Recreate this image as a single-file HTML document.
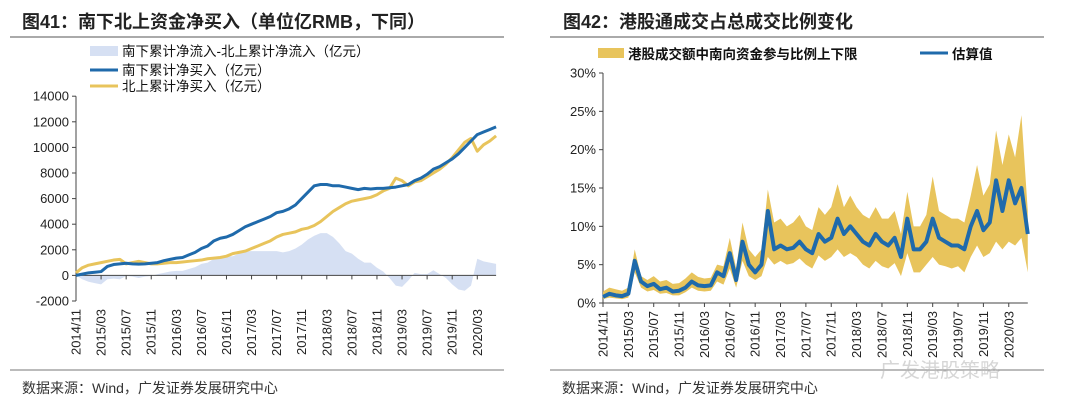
<!DOCTYPE html>
<html><head><meta charset="utf-8">
<style>
html,body{margin:0;padding:0;background:#fff;width:1080px;height:413px;overflow:hidden}
svg{display:block;font-family:"Liberation Sans","Noto Sans CJK SC",sans-serif}
</style></head>
<body>
<svg id="s" width="1080" height="413" viewBox="0 0 1080 413" xmlns="http://www.w3.org/2000/svg">
<g>
<text x="22" y="28" font-size="18" font-weight="bold" fill="#222">图41：南下北上资金净买入（单位亿RMB，下同）</text>
<line x1="10" y1="37" x2="504" y2="37" stroke="#555" stroke-width="1"/>
<rect x="90" y="46" width="28" height="10" fill="#d6e0f3"/>
<text x="122" y="56" font-size="13.5" fill="#111">南下累计净流入-北上累计净流入（亿元）</text>
<line x1="90" y1="70" x2="118" y2="70" stroke="#1f6aab" stroke-width="3"/>
<text x="122" y="75" font-size="13.5" fill="#111">南下累计净买入（亿元）</text>
<line x1="90" y1="86" x2="118" y2="86" stroke="#e8c45c" stroke-width="3"/>
<text x="122" y="91" font-size="13.5" fill="#111">北上累计净买入（亿元）</text>
<g id="L"></g>
<line x1="10" y1="370" x2="504" y2="370" stroke="#777"/>
<text x="22" y="393" font-size="14" fill="#333">数据来源：Wind，广发证券发展研究中心</text>
</g>
<g>
<text x="563" y="28" font-size="18" font-weight="bold" fill="#222">图42：港股通成交占总成交比例变化</text>
<line x1="550" y1="37" x2="1044" y2="37" stroke="#555"/>
<rect x="598" y="48" width="26" height="10" fill="#e8c45c"/>
<text x="628" y="59" font-size="13.5" font-weight="bold" fill="#111">港股成交额中南向资金参与比例上下限</text>
<line x1="920" y1="53" x2="948" y2="53" stroke="#1f6aab" stroke-width="3"/>
<text x="952" y="59" font-size="13.5" font-weight="bold" fill="#111">估算值</text>
<g id="R"></g>
<line x1="550" y1="370" x2="1044" y2="370" stroke="#777"/>
<text x="562" y="393" font-size="14" fill="#333">数据来源：Wind，广发证券发展研究中心</text>
<text x="880" y="377" font-size="20" fill="#bbb" opacity="0.6">广发港股策略</text>
</g>
</svg>
<script>
const xLabels=["2014/11","2015/03","2015/07","2015/11","2016/03","2016/07","2016/11","2017/03","2017/07","2017/11","2018/03","2018/07","2018/11","2019/03","2019/07","2019/11","2020/03"];
const leftTicks=[-2000,0,2000,4000,6000,8000,10000,12000,14000];
const rightTicks=[0,5,10,15,20,25,30];
const southBuy=[0,100,200,250,300,700,850,900,950,900,880,900,950,1000,1150,1250,1350,1400,1600,1800,2100,2300,2700,2900,3000,3200,3500,3800,4000,4200,4400,4600,4900,5000,5200,5500,6000,6500,7000,7100,7100,7000,7000,6900,6800,6700,6800,6750,6800,6800,6850,6900,7000,7100,7400,7600,7900,8300,8500,8800,9100,9500,10000,10500,11000,11200,11400,11600];
const northBuy=[200,600,800,900,1000,1100,1200,1250,900,1000,1100,1000,900,900,950,1000,1000,1050,1100,1150,1200,1300,1350,1400,1500,1700,1800,1900,2100,2300,2500,2700,3000,3200,3300,3400,3600,3700,3900,4200,4600,5000,5300,5600,5800,5900,6000,6100,6300,6600,6800,7600,7400,7000,7300,7400,7700,8000,8300,8700,9200,9800,10400,10700,9700,10200,10500,10900];
const diffFlow=[0,-300,-500,-600,-700,-300,-250,-300,-50,-100,-200,-100,-50,100,200,300,350,350,500,650,900,1000,1300,1500,1500,1500,1700,1900,1900,1900,1900,1900,1900,1800,1900,2100,2400,2800,3100,3300,3300,3000,2500,1900,1700,1300,1000,1000,600,300,-200,-800,-900,-400,200,100,100,400,100,-200,-700,-1100,-1200,-800,1300,1100,1000,900];
const estRatio=[0.8,1.2,1.0,0.9,1.2,5.5,2.8,2.2,2.5,1.8,2.0,1.5,1.6,2.0,2.8,2.3,2.2,2.3,4.0,3.5,6.5,3.0,8.0,5.0,4.0,5.0,12.0,7.0,7.5,7.0,7.2,8.0,7.0,6.5,9.0,8.0,8.5,11.0,9.0,10.0,9.0,8.0,7.5,9.0,8.0,7.5,8.5,6.0,11.0,7.0,7.0,8.0,11.0,8.5,8.0,7.5,7.5,7.0,10.0,12.0,9.5,10.5,16.0,12.0,16.0,13.0,15.0,9.0];
const upperRatio=[1.5,2.0,1.8,1.6,2.0,7.0,3.5,3.0,3.5,2.8,3.0,2.5,2.6,3.2,4.0,3.4,3.2,3.3,5.0,4.8,8.5,4.5,10.5,7.0,6.0,7.0,14.8,10.5,11.0,10.0,10.5,11.5,10.0,9.5,12.5,11.5,12.5,15.5,12.5,14.0,12.5,11.5,11.0,12.5,11.0,11.0,12.0,9.0,14.5,10.0,10.0,11.5,16.5,12.0,11.5,11.0,11.0,10.5,14.0,18.0,14.0,15.5,22.5,18.0,22.0,19.0,24.5,12.0];
const lowerRatio=[0.5,0.7,0.6,0.5,0.7,4.0,2.0,1.5,1.7,1.2,1.3,1.0,1.0,1.4,2.0,1.6,1.5,1.6,2.8,2.4,4.5,2.0,5.5,3.5,3.0,3.5,6.0,5.0,5.5,5.0,5.2,5.8,5.0,4.5,6.2,5.5,6.0,7.0,6.0,6.5,6.0,5.0,4.5,5.5,4.8,4.5,5.2,3.5,6.5,4.0,4.0,5.0,6.0,5.0,4.8,4.5,4.8,4.0,6.0,7.5,6.0,6.5,8.0,7.0,8.0,7.5,8.5,4.0];

const NS="http://www.w3.org/2000/svg";
function mk(p,t,a){const e=document.createElementNS(NS,t);for(const k in a)e.setAttribute(k,a[k]);p.appendChild(e);return e;}

function drawChart(g,o){
  const xs=i=>o.x0+i*o.dx;
  const ys=v=>o.yZero-(v-o.vmin)*o.ky;
  const ax=mk(g,'line',{x1:o.x0,y1:ys(o.ticks[o.ticks.length-1]),x2:o.x0,y2:ys(o.ticks[0]),stroke:'#444','stroke-width':1});
  
  
  o.ticks.forEach(t=>{
    const tk=mk(g,'line',{x1:o.x0-4,y1:ys(t),x2:o.x0,y2:ys(t),stroke:'#444'});
    
    
    const tx=mk(g,'text',{x:o.x0-7,y:ys(t)+4.5,'font-size':13,'text-anchor':'end',fill:'#222'});
    tx.textContent=t+o.suffix;
    
    
  });
  const xa=mk(g,'line',{x1:o.x0,y1:ys(o.xAxisAt),x2:xs(o.n-1),y2:ys(o.xAxisAt),stroke:'#444'});
  
  
  xLabels.forEach((l,k)=>{
    const x=xs(k*4);
    const tk=mk(g,'line',{x1:x,y1:ys(o.xAxisAt),x2:x,y2:ys(o.xAxisAt)+4,stroke:'#444'});
    
    
    const tx=mk(g,'text',{x:0,y:0,'font-size':13,'text-anchor':'end',fill:'#222',transform:`translate(${x+4.5},${o.labelTop}) rotate(-90)`});
    tx.textContent=l;
    
    
  });
  return {xs,ys};
}

const LG=document.getElementById('L');
const Ls=drawChart(LG,{x0:76,dx:6.27,yZero:301,vmin:-2000,ky:25.6/2000,ticks:leftTicks,suffix:'',xAxisAt:0,n:southBuy.length,labelTop:309});
let d=`M${Ls.xs(0)},${Ls.ys(0)}`;
diffFlow.forEach((v,i)=>d+=`L${Ls.xs(i)},${Ls.ys(v)}`);
d+=`L${Ls.xs(diffFlow.length-1)},${Ls.ys(0)}Z`;
const area=mk(LG,'path',{d,fill:'#d6e0f3'});


LG.insertBefore(area,LG.firstChild);
function line(g,arr,fx,fy,col,w,name){
  const p=mk(g,'polyline',{points:arr.map((v,i)=>fx(i)+','+fy(v)).join(' '),fill:'none',stroke:col,'stroke-width':w,'stroke-linejoin':'round'});
  
  
}
line(LG,northBuy,Ls.xs,Ls.ys,'#e8c45c',3,'north-line');
line(LG,southBuy,Ls.xs,Ls.ys,'#1f6aab',3,'south-line');

const RG=document.getElementById('R');
const Rs=drawChart(RG,{x0:603,dx:6.34,yZero:303,vmin:0,ky:230/30,ticks:rightTicks,suffix:'%',xAxisAt:0,n:estRatio.length,labelTop:311});
let b='';
upperRatio.forEach((v,i)=>b+=(i?'L':'M')+Rs.xs(i)+','+Rs.ys(v));
for(let i=lowerRatio.length-1;i>=0;i--)b+='L'+Rs.xs(i)+','+Rs.ys(lowerRatio[i]);
b+='Z';
const band=mk(RG,'path',{d:b,fill:'#e8c45c'});


line(RG,estRatio,Rs.xs,Rs.ys,'#1f6aab',4,'estimate-line');
</script>
</body></html>
